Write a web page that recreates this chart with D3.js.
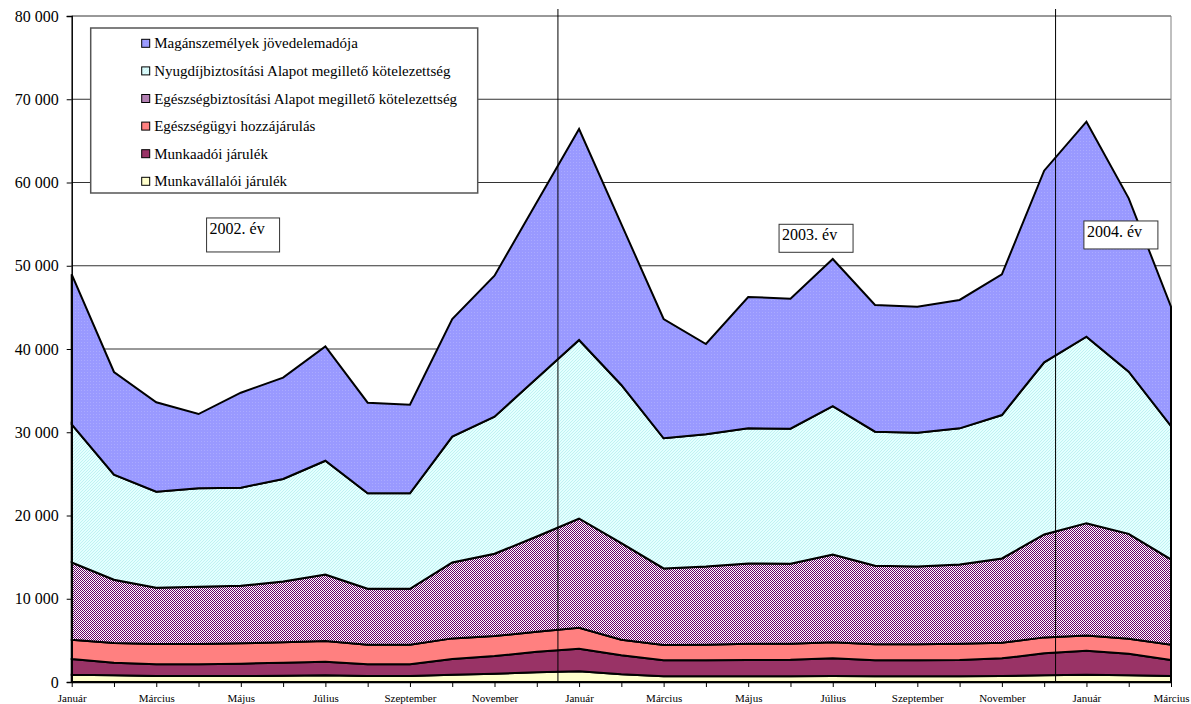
<!DOCTYPE html>
<html>
<head>
<meta charset="utf-8">
<script src="https://cdnjs.cloudflare.com/ajax/libs/d3/7.8.5/d3.min.js"></script>
<style>
    body { margin: 0; background: #fff; }
    svg { display: block; font-family: "Liberation Serif", "Times New Roman", serif; }
</style>
</head>
<body>
<script>
"use strict";

// months, Jan 2002 .. Mar 2004
var monthLabels = ["Január", "", "Március", "", "Május", "", "Július", "", "Szeptember", "", "November", "",
    "Január", "", "Március", "", "Május", "", "Július", "", "Szeptember", "", "November", "",
    "Január", "", "Március"];

// series, bottom of the stack first
var munkavallaloi = [880, 800, 720, 720, 720, 760, 800, 720, 720, 880, 1000, 1160, 1280, 920, 680, 680, 680, 680,
    720, 680, 680, 680, 720, 800, 880, 800, 720];
var munkaadoi = [1880, 1520, 1400, 1400, 1480, 1560, 1640, 1400, 1400, 1880, 2120, 2480, 2720, 2280, 1920, 1920,
    1960, 2000, 2120, 1920, 1920, 1960, 2120, 2640, 2880, 2600, 1920];
var egeszsegugyi = [2320, 2360, 2440, 2440, 2440, 2440, 2480, 2360, 2360, 2480, 2400, 2400, 2520, 1880, 1840, 1880,
    1960, 1920, 1920, 1920, 1920, 1960, 1880, 1920, 1840, 1800, 1840];
var egeszsegbiztositasi = [9280, 7600, 6760, 6880, 6920, 7320, 8000, 6720, 6720, 9120, 9880, 11440, 13120, 11600,
    9200, 9400, 9640, 9600, 10560, 9440, 9360, 9520, 10120, 12360, 13480, 12600, 10240];
var nyugdijbiztositasi = [16590, 12620, 11540, 11820, 11780, 12300, 13660, 11460, 11460, 15110, 16470, 19000, 21440,
    19000, 15630, 15870, 16230, 16230, 17830, 16110, 16070, 16350, 17230, 20680, 22400, 19480, 16030];
var maganszemelyek = [18020, 12340, 10740, 8930, 11410, 12180, 13740, 10890, 10650, 14130, 16940, 21140, 25350,
    19320, 14330, 10850, 15780, 15620, 17660, 15220, 15130, 15420, 16900, 23020, 25830, 20820, 14330];

var seriesNames = ["Munkavállalói járulék", "Munkaadói járulék", "Egészségügyi hozzájárulás",
    "Egészségbiztosítási Alapot megillető kötelezettség", "Nyugdíjbiztosítási Alapot megillető kötelezettség",
    "Magánszemélyek jövedelemadója"];
var seriesValues = [munkavallaloi, munkaadoi, egeszsegugyi, egeszsegbiztositasi, nyugdijbiztositasi, maganszemelyek];
var seriesFills = ["#ffffcc", "#993366", "#ff8080", "url(#checkPurple)", "url(#hatchCyan)", "url(#dotBlue)"];

var yTicks = [0, 10000, 20000, 30000, 40000, 50000, 60000, 70000, 80000];

// year separators (month position) and year boxes
var yearLines = [11.5, 23.27];
var yearBoxes = [
    {"text": "2002. év", "month": 3.19, "value": 55740, "w": 73, "h": 34},
    {"text": "2003. év", "month": 16.73, "value": 54980, "w": 74, "h": 28},
    {"text": "2004. év", "month": 23.94, "value": 55380, "w": 74, "h": 28}
];

var width = 1191;
var height = 704;
var plotLeft = 71.7, plotRight = 1171, plotTop = 16, plotBottom = 682;

var svg = d3.select("body").append("svg")
    .attr("width", width)
    .attr("height", height);

// fill patterns
var defs = svg.append("defs");
var checker = defs.append("pattern")
    .attr("id", "checkPurple")
    .attr("patternUnits", "userSpaceOnUse")
    .attr("width", 2).attr("height", 2);
checker.append("rect").attr("width", 2).attr("height", 2).attr("fill", "#ffffff");
checker.append("rect").attr("width", 1).attr("height", 1).attr("fill", "#660066");
checker.append("rect").attr("x", 1).attr("y", 1).attr("width", 1).attr("height", 1).attr("fill", "#660066");

var hatch = defs.append("pattern")
    .attr("id", "hatchCyan")
    .attr("patternUnits", "userSpaceOnUse")
    .attr("width", 3).attr("height", 3);
hatch.append("rect").attr("width", 3).attr("height", 3).attr("fill", "#e4ffff");
[[0, 2], [1, 1], [2, 0]].forEach(function(p) {
    hatch.append("rect").attr("x", p[0]).attr("y", p[1]).attr("width", 1).attr("height", 1).attr("fill", "#c0f2f2");
});

var dots = defs.append("pattern")
    .attr("id", "dotBlue")
    .attr("patternUnits", "userSpaceOnUse")
    .attr("width", 3).attr("height", 3);
dots.append("rect").attr("width", 3).attr("height", 3).attr("fill", "#9999ff");
dots.append("rect").attr("width", 1).attr("height", 1).attr("fill", "#aaaaff");

var x = d3.scaleLinear()
    .domain([0, monthLabels.length - 1])
    .range([plotLeft, plotRight]);
var y = d3.scaleLinear()
    .domain([0, 80000])
    .range([plotBottom, plotTop]);

var fmt = d3.formatLocale({"decimal": ",", "thousands": " ", "grouping": [3], "currency": ["", ""]}).format(",d");

// gridlines
svg.append("g")
    .attr("class", "grid")
    .selectAll("line")
    .data(yTicks.filter(function(d) { return d > 0; }))
    .enter()
    .append("line")
    .attr("x1", plotLeft)
    .attr("x2", plotRight)
    .attr("y1", function(d) { return y(d); })
    .attr("y2", function(d) { return y(d); })
    .attr("stroke", "#333")
    .attr("stroke-width", 1);

// plot area right border
svg.append("line")
    .attr("x1", plotRight).attr("x2", plotRight)
    .attr("y1", plotTop).attr("y2", plotBottom)
    .attr("stroke", "#808080");

// stacked areas
var table = monthLabels.map(function(m, i) {
    var row = {"i": i};
    seriesNames.forEach(function(name, k) { row[name] = seriesValues[k][i]; });
    return row;
});
var stacked = d3.stack().keys(seriesNames)(table);

var area = d3.area()
    .x(function(d) { return x(d.data.i); })
    .y0(function(d) { return y(d[0]); })
    .y1(function(d) { return y(d[1]); });

svg.append("g")
    .attr("class", "areas")
    .selectAll("path")
    .data(stacked)
    .enter()
    .append("path")
    .attr("d", area)
    .attr("fill", function(d, k) { return seriesFills[k]; })
    .attr("stroke", "#000")
    .attr("stroke-width", 2)
    .attr("stroke-linejoin", "miter");

// axes
var yAxis = svg.append("g")
    .attr("transform", "translate(" + plotLeft + ",0)")
    .call(d3.axisLeft(y).tickValues(yTicks).tickFormat(fmt).tickSize(5).tickPadding(8));
yAxis.select(".domain").attr("stroke", "#000").attr("stroke-width", 1.5);
yAxis.selectAll("text")
    .attr("font-size", 16)
    .attr("font-family", "Liberation Serif")
    .attr("fill", "#000");

var xAxis = svg.append("g")
    .attr("transform", "translate(0," + plotBottom + ")")
    .call(d3.axisBottom(x)
        .tickValues(d3.range(monthLabels.length))
        .tickFormat(function(d) { return monthLabels[d]; })
        .tickSize(5)
        .tickSizeOuter(0)
        .tickPadding(7));
xAxis.select(".domain").attr("stroke", "#000").attr("stroke-width", 1.5);
xAxis.selectAll("text")
    .attr("font-size", 11)
    .attr("font-family", "Liberation Serif")
    .attr("fill", "#000");

// year separators
svg.append("g")
    .selectAll("line")
    .data(yearLines)
    .enter()
    .append("line")
    .attr("x1", function(d) { return x(d); })
    .attr("x2", function(d) { return x(d); })
    .attr("y1", 9)
    .attr("y2", plotBottom)
    .attr("stroke", "#000")
    .attr("stroke-width", 1);

// year boxes
var box = svg.append("g")
    .selectAll("g")
    .data(yearBoxes)
    .enter()
    .append("g")
    .attr("transform", function(d) { return "translate(" + x(d.month) + "," + y(d.value) + ")"; });
box.append("rect")
    .attr("width", function(d) { return d.w; })
    .attr("height", function(d) { return d.h; })
    .attr("fill", "#fff")
    .attr("stroke", "#333")
    .attr("stroke-width", 1);
box.append("text")
    .attr("x", 3)
    .attr("y", 16)
    .attr("font-size", 16)
    .text(function(d) { return d.text; });

// legend
var legend = svg.append("g").attr("transform", "translate(90.7,28)");
legend.append("rect")
    .attr("width", 387)
    .attr("height", 165)
    .attr("fill", "#fff")
    .attr("stroke", "#555")
    .attr("stroke-width", 1.5);
var legendItem = legend.selectAll("g.item")
    .data(d3.range(seriesNames.length).reverse())
    .enter()
    .append("g")
    .attr("class", "item")
    .attr("transform", function(k, j) { return "translate(51," + (15.3 + j * 27.6) + ")"; });
legendItem.append("rect")
    .attr("x", 0)
    .attr("y", -4)
    .attr("width", 8)
    .attr("height", 8)
    .attr("fill", function(k) { return seriesFills[k]; })
    .attr("stroke", "#000")
    .attr("stroke-width", 1);
legendItem.append("text")
    .attr("x", 12.5)
    .attr("y", 5)
    .attr("font-size", 15)
    .text(function(k) { return seriesNames[k]; });
</script>
</body>
</html>
